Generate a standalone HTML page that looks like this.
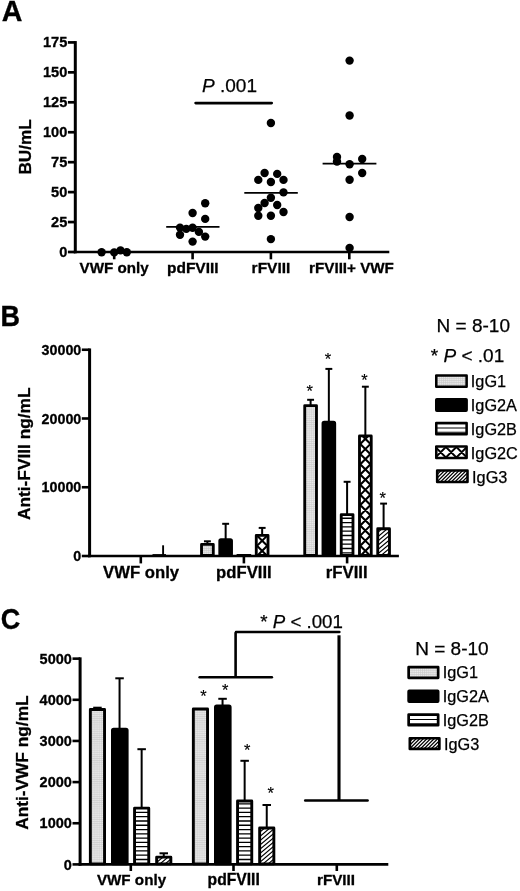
<!DOCTYPE html>
<html lang="en"><head><meta charset="utf-8"><title>Figure</title>
<style>html,body{margin:0;padding:0;background:#fff;overflow:hidden;}svg{display:block;}text{font-family:'Liberation Sans', sans-serif;fill:#000;}</style></head><body>
<svg width="520" height="891" viewBox="0 0 520 891">
<rect width="520" height="891" fill="#fff"/>
<defs><pattern id="pGrid" width="2.1" height="2.1" patternUnits="userSpaceOnUse"><rect width="2.1" height="2.1" fill="#ececec"/><path d="M0 0.5H2.1M0.5 0V2.1" stroke="#c6c6c6" stroke-width="0.6"/></pattern><clipPath id="c1"><rect x="256.27" y="535.42" width="11.75" height="20.05"/></clipPath><clipPath id="c2"><rect x="341.23" y="514.62" width="11.75" height="40.85"/></clipPath><clipPath id="c3"><rect x="359.48" y="435.93" width="11.75" height="119.55"/></clipPath><clipPath id="c4"><rect x="377.73" y="528.72" width="11.75" height="26.75"/></clipPath><clipPath id="c5"><rect x="436.27" y="422.97" width="30.35" height="11.35"/></clipPath><clipPath id="c6"><rect x="436.27" y="446.57" width="30.35" height="11.35"/></clipPath><clipPath id="c7"><rect x="437.17" y="470.57" width="30.35" height="11.35"/></clipPath><clipPath id="c8"><rect x="134.55" y="808.15" width="14.20" height="55.70"/></clipPath><clipPath id="c9"><rect x="156.65" y="857.15" width="14.20" height="6.70"/></clipPath><clipPath id="c10"><rect x="237.55" y="801.05" width="14.20" height="62.80"/></clipPath><clipPath id="c11"><rect x="259.65" y="827.95" width="14.20" height="35.90"/></clipPath><clipPath id="c12"><rect x="408.65" y="714.55" width="29.50" height="10.70"/></clipPath><clipPath id="c13"><rect x="409.85" y="738.25" width="29.50" height="10.70"/></clipPath></defs>
<text x="1.7" y="21" font-size="28.6" font-weight="bold" text-anchor="start" stroke="#000" stroke-width="0.3">A</text>
<line x1="75.30" y1="41.07" x2="75.30" y2="253.30" stroke="#000" stroke-width="3.0" stroke-linecap="butt"/>
<line x1="73.80" y1="252.00" x2="389.30" y2="252.00" stroke="#000" stroke-width="2.6" stroke-linecap="butt"/>
<line x1="67.90" y1="252.00" x2="75.30" y2="252.00" stroke="#000" stroke-width="2.7" stroke-linecap="butt"/>
<text x="0" y="0" font-size="14.6" font-weight="bold" text-anchor="end" transform="translate(67.3 256.7) scale(1 1.06)" stroke="#000" stroke-width="0.3">0</text>
<line x1="67.90" y1="222.06" x2="75.30" y2="222.06" stroke="#000" stroke-width="2.7" stroke-linecap="butt"/>
<text x="0" y="0" font-size="14.6" font-weight="bold" text-anchor="end" transform="translate(67.3 226.76) scale(1 1.06)" stroke="#000" stroke-width="0.3">25</text>
<line x1="67.90" y1="192.12" x2="75.30" y2="192.12" stroke="#000" stroke-width="2.7" stroke-linecap="butt"/>
<text x="0" y="0" font-size="14.6" font-weight="bold" text-anchor="end" transform="translate(67.3 196.82) scale(1 1.06)" stroke="#000" stroke-width="0.3">50</text>
<line x1="67.90" y1="162.18" x2="75.30" y2="162.18" stroke="#000" stroke-width="2.7" stroke-linecap="butt"/>
<text x="0" y="0" font-size="14.6" font-weight="bold" text-anchor="end" transform="translate(67.3 166.88) scale(1 1.06)" stroke="#000" stroke-width="0.3">75</text>
<line x1="67.90" y1="132.24" x2="75.30" y2="132.24" stroke="#000" stroke-width="2.7" stroke-linecap="butt"/>
<text x="0" y="0" font-size="14.6" font-weight="bold" text-anchor="end" transform="translate(67.3 136.94) scale(1 1.06)" stroke="#000" stroke-width="0.3">100</text>
<line x1="67.90" y1="102.30" x2="75.30" y2="102.30" stroke="#000" stroke-width="2.7" stroke-linecap="butt"/>
<text x="0" y="0" font-size="14.6" font-weight="bold" text-anchor="end" transform="translate(67.3 107.0) scale(1 1.06)" stroke="#000" stroke-width="0.3">125</text>
<line x1="67.90" y1="72.36" x2="75.30" y2="72.36" stroke="#000" stroke-width="2.7" stroke-linecap="butt"/>
<text x="0" y="0" font-size="14.6" font-weight="bold" text-anchor="end" transform="translate(67.3 77.06) scale(1 1.06)" stroke="#000" stroke-width="0.3">150</text>
<line x1="67.90" y1="42.42" x2="75.30" y2="42.42" stroke="#000" stroke-width="2.7" stroke-linecap="butt"/>
<text x="0" y="0" font-size="14.6" font-weight="bold" text-anchor="end" transform="translate(67.3 47.12) scale(1 1.06)" stroke="#000" stroke-width="0.3">175</text>
<text x="30.7" y="174.6" font-size="17.2" font-weight="bold" text-anchor="start" transform="rotate(-90 30.7 174.6)" stroke="#000" stroke-width="0.3">BU/mL</text>
<line x1="114.20" y1="252.00" x2="114.20" y2="259.30" stroke="#000" stroke-width="2.6" stroke-linecap="butt"/>
<line x1="192.60" y1="252.00" x2="192.60" y2="259.30" stroke="#000" stroke-width="2.6" stroke-linecap="butt"/>
<line x1="270.90" y1="252.00" x2="270.90" y2="259.30" stroke="#000" stroke-width="2.6" stroke-linecap="butt"/>
<line x1="349.30" y1="252.00" x2="349.30" y2="259.30" stroke="#000" stroke-width="2.6" stroke-linecap="butt"/>
<text x="114.2" y="273.3" font-size="15.2" font-weight="bold" text-anchor="middle" stroke="#000" stroke-width="0.3">VWF only</text>
<text x="192.8" y="273.3" font-size="15.5" font-weight="bold" text-anchor="middle" stroke="#000" stroke-width="0.3">pdFVIII</text>
<text x="271.0" y="273.3" font-size="15.5" font-weight="bold" text-anchor="middle" stroke="#000" stroke-width="0.3">rFVIII</text>
<text x="351.5" y="273.3" font-size="15.2" font-weight="bold" text-anchor="middle" stroke="#000" stroke-width="0.3">rFVIII+ VWF</text>
<text x="202.0" y="92.3" font-size="19" font-weight="normal" text-anchor="start" stroke="#000" stroke-width="0.25"><tspan font-style="italic">P</tspan> .001</text>
<line x1="195.70" y1="103.10" x2="271.60" y2="103.10" stroke="#000" stroke-width="2.9" stroke-linecap="round"/>
<circle cx="101.60" cy="252.20" r="4.2" fill="#000"/>
<circle cx="114.20" cy="252.40" r="4.2" fill="#000"/>
<circle cx="120.50" cy="250.40" r="4.2" fill="#000"/>
<circle cx="126.80" cy="252.20" r="4.2" fill="#000"/>
<circle cx="205.20" cy="203.20" r="4.2" fill="#000"/>
<circle cx="192.60" cy="213.00" r="4.2" fill="#000"/>
<circle cx="205.20" cy="218.90" r="4.2" fill="#000"/>
<circle cx="180.00" cy="227.60" r="4.2" fill="#000"/>
<circle cx="186.30" cy="228.90" r="4.2" fill="#000"/>
<circle cx="192.60" cy="227.80" r="4.2" fill="#000"/>
<circle cx="198.90" cy="231.90" r="4.2" fill="#000"/>
<circle cx="180.00" cy="234.70" r="4.2" fill="#000"/>
<circle cx="205.20" cy="236.60" r="4.2" fill="#000"/>
<circle cx="192.60" cy="241.60" r="4.2" fill="#000"/>
<circle cx="270.90" cy="123.05" r="4.2" fill="#000"/>
<circle cx="264.60" cy="173.00" r="4.2" fill="#000"/>
<circle cx="277.20" cy="173.90" r="4.2" fill="#000"/>
<circle cx="258.30" cy="179.90" r="4.2" fill="#000"/>
<circle cx="270.90" cy="182.00" r="4.2" fill="#000"/>
<circle cx="283.50" cy="179.90" r="4.2" fill="#000"/>
<circle cx="283.50" cy="192.40" r="4.2" fill="#000"/>
<circle cx="270.90" cy="197.80" r="4.2" fill="#000"/>
<circle cx="264.60" cy="203.00" r="4.2" fill="#000"/>
<circle cx="277.20" cy="205.00" r="4.2" fill="#000"/>
<circle cx="258.30" cy="208.00" r="4.2" fill="#000"/>
<circle cx="283.50" cy="212.00" r="4.2" fill="#000"/>
<circle cx="258.30" cy="215.70" r="4.2" fill="#000"/>
<circle cx="270.90" cy="215.70" r="4.2" fill="#000"/>
<circle cx="270.90" cy="239.10" r="4.2" fill="#000"/>
<circle cx="349.60" cy="60.60" r="4.2" fill="#000"/>
<circle cx="349.60" cy="115.50" r="4.2" fill="#000"/>
<circle cx="337.00" cy="156.90" r="4.2" fill="#000"/>
<circle cx="337.00" cy="161.50" r="4.2" fill="#000"/>
<circle cx="362.20" cy="159.00" r="4.2" fill="#000"/>
<circle cx="349.60" cy="164.30" r="4.2" fill="#000"/>
<circle cx="362.20" cy="173.00" r="4.2" fill="#000"/>
<circle cx="349.60" cy="179.70" r="4.2" fill="#000"/>
<circle cx="349.60" cy="217.00" r="4.2" fill="#000"/>
<circle cx="349.60" cy="247.90" r="4.2" fill="#000"/>
<line x1="166.20" y1="226.90" x2="219.50" y2="226.90" stroke="#000" stroke-width="1.8" stroke-linecap="butt"/>
<line x1="244.30" y1="192.80" x2="297.80" y2="192.80" stroke="#000" stroke-width="1.8" stroke-linecap="butt"/>
<line x1="322.60" y1="163.60" x2="376.40" y2="163.60" stroke="#000" stroke-width="1.8" stroke-linecap="butt"/>
<text x="0" y="0" font-size="27.0" font-weight="bold" text-anchor="start" transform="translate(0.5 325.9) scale(1 1.08)" stroke="#000" stroke-width="0.3">B</text>
<line x1="89.60" y1="348.45" x2="89.60" y2="557.25" stroke="#000" stroke-width="3.0" stroke-linecap="butt"/>
<line x1="88.10" y1="556.00" x2="398.90" y2="556.00" stroke="#000" stroke-width="2.5" stroke-linecap="butt"/>
<line x1="81.80" y1="556.00" x2="89.60" y2="556.00" stroke="#000" stroke-width="2.6" stroke-linecap="butt"/>
<text x="0" y="0" font-size="14.3" font-weight="bold" text-anchor="end" transform="translate(81.3 561.0) scale(1 1.07)" stroke="#000" stroke-width="0.3">0</text>
<line x1="81.80" y1="487.25" x2="89.60" y2="487.25" stroke="#000" stroke-width="2.6" stroke-linecap="butt"/>
<text x="0" y="0" font-size="14.3" font-weight="bold" text-anchor="end" transform="translate(81.3 492.25) scale(1 1.07)" stroke="#000" stroke-width="0.3">10000</text>
<line x1="81.80" y1="418.50" x2="89.60" y2="418.50" stroke="#000" stroke-width="2.6" stroke-linecap="butt"/>
<text x="0" y="0" font-size="14.3" font-weight="bold" text-anchor="end" transform="translate(81.3 423.5) scale(1 1.07)" stroke="#000" stroke-width="0.3">20000</text>
<line x1="81.80" y1="349.75" x2="89.60" y2="349.75" stroke="#000" stroke-width="2.6" stroke-linecap="butt"/>
<text x="0" y="0" font-size="14.3" font-weight="bold" text-anchor="end" transform="translate(81.3 354.75) scale(1 1.07)" stroke="#000" stroke-width="0.3">30000</text>
<text x="30.3" y="520.0" font-size="17.3" font-weight="bold" text-anchor="start" transform="rotate(-90 30.3 520.0)" stroke="#000" stroke-width="0.3">Anti-FVIII ng/mL</text>
<line x1="140.80" y1="556.00" x2="140.80" y2="563.40" stroke="#000" stroke-width="2.6" stroke-linecap="butt"/>
<line x1="243.90" y1="556.00" x2="243.90" y2="563.40" stroke="#000" stroke-width="2.6" stroke-linecap="butt"/>
<line x1="347.10" y1="556.00" x2="347.10" y2="563.40" stroke="#000" stroke-width="2.6" stroke-linecap="butt"/>
<text x="141.1" y="577.6" font-size="16.7" font-weight="bold" text-anchor="middle" stroke="#000" stroke-width="0.3">VWF only</text>
<text x="243.9" y="577.7" font-size="16.7" font-weight="bold" text-anchor="middle" stroke="#000" stroke-width="0.3">pdFVIII</text>
<text x="346.7" y="577.7" font-size="16.7" font-weight="bold" text-anchor="middle" stroke="#000" stroke-width="0.3">rFVIII</text>
<line x1="152.50" y1="554.80" x2="166.00" y2="554.80" stroke="#000" stroke-width="1.4" stroke-linecap="butt"/>
<line x1="163.10" y1="545.30" x2="163.10" y2="556.00" stroke="#000" stroke-width="1.9" stroke-linecap="butt"/>
<line x1="207.40" y1="541.30" x2="207.40" y2="544.00" stroke="#000" stroke-width="2.0" stroke-linecap="butt"/>
<line x1="203.95" y1="541.30" x2="210.85" y2="541.30" stroke="#000" stroke-width="2.0" stroke-linecap="butt"/>
<rect x="201.53" y="544.42" width="11.75" height="11.05" fill="url(#pGrid)"/>
<rect x="201.53" y="544.42" width="11.75" height="11.05" rx="0" fill="none" stroke="#000" stroke-width="2.85" stroke-linejoin="round"/>
<line x1="225.65" y1="523.80" x2="225.65" y2="539.20" stroke="#000" stroke-width="2.0" stroke-linecap="butt"/>
<line x1="222.20" y1="523.80" x2="229.10" y2="523.80" stroke="#000" stroke-width="2.0" stroke-linecap="butt"/>
<rect x="219.78" y="539.62" width="11.75" height="15.85" rx="1.2" fill="#000" stroke="#000" stroke-width="2.85" stroke-linejoin="round"/>
<line x1="236.60" y1="554.70" x2="251.20" y2="554.70" stroke="#000" stroke-width="1.4" stroke-linecap="butt"/>
<line x1="262.15" y1="527.90" x2="262.15" y2="535.00" stroke="#000" stroke-width="2.0" stroke-linecap="butt"/>
<line x1="258.70" y1="527.90" x2="265.60" y2="527.90" stroke="#000" stroke-width="2.0" stroke-linecap="butt"/>
<g clip-path="url(#c1)"><rect x="256.27" y="535.42" width="11.75" height="20.05" fill="#fff"/><path d="M254.27 522.65L270.02 538.40M254.27 538.40L270.02 522.65M254.27 532.84L270.02 548.59M254.27 548.59L270.02 532.84M254.27 543.03L270.02 558.78M254.27 558.78L270.02 543.03M254.27 553.22L270.02 568.97M254.27 568.97L270.02 553.22" fill="none" stroke="#000" stroke-width="2.1"/></g>
<rect x="256.27" y="535.42" width="11.75" height="20.05" rx="0" fill="none" stroke="#000" stroke-width="2.85" stroke-linejoin="round"/>
<line x1="310.60" y1="399.80" x2="310.60" y2="405.20" stroke="#000" stroke-width="2.0" stroke-linecap="butt"/>
<line x1="307.15" y1="399.80" x2="314.05" y2="399.80" stroke="#000" stroke-width="2.0" stroke-linecap="butt"/>
<rect x="304.73" y="405.62" width="11.75" height="149.85" fill="url(#pGrid)"/>
<rect x="304.73" y="405.62" width="11.75" height="149.85" rx="0" fill="none" stroke="#000" stroke-width="2.85" stroke-linejoin="round"/>
<text x="309.7" y="397.3" font-size="16.5" font-weight="normal" text-anchor="middle" stroke="#000" stroke-width="0.15">*</text>
<line x1="328.85" y1="368.90" x2="328.85" y2="421.80" stroke="#000" stroke-width="2.0" stroke-linecap="butt"/>
<line x1="325.40" y1="368.90" x2="332.30" y2="368.90" stroke="#000" stroke-width="2.0" stroke-linecap="butt"/>
<rect x="322.98" y="422.23" width="11.75" height="133.25" rx="1.2" fill="#000" stroke="#000" stroke-width="2.85" stroke-linejoin="round"/>
<text x="327.95" y="365.3" font-size="16.5" font-weight="normal" text-anchor="middle" stroke="#000" stroke-width="0.15">*</text>
<line x1="347.10" y1="481.80" x2="347.10" y2="514.20" stroke="#000" stroke-width="2.0" stroke-linecap="butt"/>
<line x1="343.65" y1="481.80" x2="350.55" y2="481.80" stroke="#000" stroke-width="2.0" stroke-linecap="butt"/>
<g clip-path="url(#c2)"><rect x="341.23" y="514.62" width="11.75" height="40.85" fill="#fff"/><path d="M340.23 513.92H353.98M340.23 518.24H353.98M340.23 522.56H353.98M340.23 526.88H353.98M340.23 531.20H353.98M340.23 535.52H353.98M340.23 539.84H353.98M340.23 544.16H353.98M340.23 548.48H353.98M340.23 552.80H353.98M340.23 557.12H353.98" fill="none" stroke="#000" stroke-width="1.3"/></g>
<rect x="341.23" y="514.62" width="11.75" height="40.85" rx="0" fill="none" stroke="#000" stroke-width="2.85" stroke-linejoin="round"/>
<line x1="365.35" y1="386.70" x2="365.35" y2="435.50" stroke="#000" stroke-width="2.0" stroke-linecap="butt"/>
<line x1="361.90" y1="386.70" x2="368.80" y2="386.70" stroke="#000" stroke-width="2.0" stroke-linecap="butt"/>
<g clip-path="url(#c3)"><rect x="359.48" y="435.93" width="11.75" height="119.55" fill="#fff"/><path d="M357.48 420.75L373.23 436.50M357.48 436.50L373.23 420.75M357.48 430.94L373.23 446.69M357.48 446.69L373.23 430.94M357.48 441.13L373.23 456.88M357.48 456.88L373.23 441.13M357.48 451.32L373.23 467.07M357.48 467.07L373.23 451.32M357.48 461.51L373.23 477.26M357.48 477.26L373.23 461.51M357.48 471.70L373.23 487.45M357.48 487.45L373.23 471.70M357.48 481.89L373.23 497.64M357.48 497.64L373.23 481.89M357.48 492.08L373.23 507.83M357.48 507.83L373.23 492.08M357.48 502.27L373.23 518.02M357.48 518.02L373.23 502.27M357.48 512.46L373.23 528.21M357.48 528.21L373.23 512.46M357.48 522.65L373.23 538.40M357.48 538.40L373.23 522.65M357.48 532.84L373.23 548.59M357.48 548.59L373.23 532.84M357.48 543.03L373.23 558.78M357.48 558.78L373.23 543.03M357.48 553.22L373.23 568.97M357.48 568.97L373.23 553.22" fill="none" stroke="#000" stroke-width="2.1"/></g>
<rect x="359.48" y="435.93" width="11.75" height="119.55" rx="0" fill="none" stroke="#000" stroke-width="2.85" stroke-linejoin="round"/>
<text x="364.45" y="385.8" font-size="16.5" font-weight="normal" text-anchor="middle" stroke="#000" stroke-width="0.15">*</text>
<line x1="383.60" y1="503.60" x2="383.60" y2="528.30" stroke="#000" stroke-width="2.0" stroke-linecap="butt"/>
<line x1="380.15" y1="503.60" x2="387.05" y2="503.60" stroke="#000" stroke-width="2.0" stroke-linecap="butt"/>
<g clip-path="url(#c4)"><rect x="377.73" y="528.72" width="11.75" height="26.75" fill="#fff"/><path d="M375.73 529.88L391.48 516.66M375.73 534.18L391.48 520.96M375.73 538.48L391.48 525.26M375.73 542.78L391.48 529.56M375.73 547.08L391.48 533.86M375.73 551.38L391.48 538.16M375.73 555.68L391.48 542.46M375.73 559.98L391.48 546.76M375.73 564.28L391.48 551.06M375.73 568.58L391.48 555.36" fill="none" stroke="#000" stroke-width="1.15"/></g>
<rect x="377.73" y="528.72" width="11.75" height="26.75" rx="0" fill="none" stroke="#000" stroke-width="2.85" stroke-linejoin="round"/>
<text x="382.7" y="504.1" font-size="16.5" font-weight="normal" text-anchor="middle" stroke="#000" stroke-width="0.15">*</text>
<text x="436.6" y="331.6" font-size="19" font-weight="normal" text-anchor="start" stroke="#000" stroke-width="0.25">N = 8-10</text>
<text x="430.8" y="361.8" font-size="19" font-weight="normal" text-anchor="start" stroke="#000" stroke-width="0.25">* <tspan font-style="italic">P</tspan> &lt; .01</text>
<rect x="436.27" y="375.47" width="30.35" height="11.35" fill="url(#pGrid)"/>
<rect x="436.27" y="375.47" width="30.35" height="11.35" rx="0" fill="none" stroke="#000" stroke-width="2.55" stroke-linejoin="round"/>
<text x="470.8" y="387.4" font-size="16.3" font-weight="normal" text-anchor="start" stroke="#000" stroke-width="0.25">IgG1</text>
<rect x="436.27" y="399.27" width="30.35" height="11.35" rx="0.6" fill="#000" stroke="#000" stroke-width="2.55" stroke-linejoin="round"/>
<text x="470.8" y="411.2" font-size="16.3" font-weight="normal" text-anchor="start" stroke="#000" stroke-width="0.25">IgG2A</text>
<g clip-path="url(#c5)"><rect x="436.27" y="422.97" width="30.35" height="11.35" fill="#fff"/><path d="M435.27 419.36H467.62M435.27 423.68H467.62M435.27 428.00H467.62M435.27 432.32H467.62M435.27 436.64H467.62" fill="none" stroke="#000" stroke-width="1.05"/></g>
<rect x="436.27" y="422.97" width="30.35" height="11.35" rx="0" fill="none" stroke="#000" stroke-width="2.55" stroke-linejoin="round"/>
<text x="470.8" y="434.9" font-size="16.3" font-weight="normal" text-anchor="start" stroke="#000" stroke-width="0.25">IgG2B</text>
<g clip-path="url(#c6)"><rect x="436.27" y="446.57" width="30.35" height="11.35" fill="#fff"/><path d="M434.27 414.38L468.62 448.73M434.27 448.12L468.62 413.77M434.27 424.88L468.62 459.23M434.27 458.62L468.62 424.27M434.27 435.38L468.62 469.73M434.27 469.12L468.62 434.77M434.27 445.88L468.62 480.23M434.27 479.62L468.62 445.27M434.27 456.38L468.62 490.73M434.27 490.12L468.62 455.77" fill="none" stroke="#000" stroke-width="2.0"/></g>
<rect x="436.27" y="446.57" width="30.35" height="11.35" rx="0" fill="none" stroke="#000" stroke-width="2.55" stroke-linejoin="round"/>
<text x="470.8" y="458.5" font-size="16.3" font-weight="normal" text-anchor="start" stroke="#000" stroke-width="0.25">IgG2C</text>
<g clip-path="url(#c7)"><rect x="437.17" y="470.57" width="30.35" height="11.35" fill="#fff"/><path d="M435.17 469.25L469.52 434.90M435.17 472.85L469.52 438.50M435.17 476.45L469.52 442.10M435.17 480.05L469.52 445.70M435.17 483.65L469.52 449.30M435.17 487.25L469.52 452.90M435.17 490.85L469.52 456.50M435.17 494.45L469.52 460.10M435.17 498.05L469.52 463.70M435.17 501.65L469.52 467.30M435.17 505.25L469.52 470.90M435.17 508.85L469.52 474.50M435.17 512.45L469.52 478.10M435.17 516.05L469.52 481.70" fill="none" stroke="#000" stroke-width="1.25"/></g>
<rect x="437.17" y="470.57" width="30.35" height="11.35" rx="0" fill="none" stroke="#000" stroke-width="2.55" stroke-linejoin="round"/>
<text x="472.06" y="482.5" font-size="16.3" font-weight="normal" text-anchor="start" stroke="#000" stroke-width="0.25">IgG3</text>
<text x="0" y="0" font-size="27.0" font-weight="bold" text-anchor="start" transform="translate(0.7 628.6) scale(1 1.09)" stroke="#000" stroke-width="0.3">C</text>
<line x1="80.10" y1="657.35" x2="80.10" y2="865.65" stroke="#000" stroke-width="3.0" stroke-linecap="butt"/>
<line x1="78.60" y1="864.40" x2="388.30" y2="864.40" stroke="#000" stroke-width="2.6" stroke-linecap="butt"/>
<line x1="72.50" y1="864.40" x2="80.10" y2="864.40" stroke="#000" stroke-width="2.6" stroke-linecap="butt"/>
<text x="0" y="0" font-size="14.5" font-weight="bold" text-anchor="end" transform="translate(71.8 869.5) scale(1 1.07)" stroke="#000" stroke-width="0.3">0</text>
<line x1="72.50" y1="823.25" x2="80.10" y2="823.25" stroke="#000" stroke-width="2.6" stroke-linecap="butt"/>
<text x="0" y="0" font-size="14.5" font-weight="bold" text-anchor="end" transform="translate(71.8 828.35) scale(1 1.07)" stroke="#000" stroke-width="0.3">1000</text>
<line x1="72.50" y1="782.10" x2="80.10" y2="782.10" stroke="#000" stroke-width="2.6" stroke-linecap="butt"/>
<text x="0" y="0" font-size="14.5" font-weight="bold" text-anchor="end" transform="translate(71.8 787.2) scale(1 1.07)" stroke="#000" stroke-width="0.3">2000</text>
<line x1="72.50" y1="740.95" x2="80.10" y2="740.95" stroke="#000" stroke-width="2.6" stroke-linecap="butt"/>
<text x="0" y="0" font-size="14.5" font-weight="bold" text-anchor="end" transform="translate(71.8 746.05) scale(1 1.07)" stroke="#000" stroke-width="0.3">3000</text>
<line x1="72.50" y1="699.80" x2="80.10" y2="699.80" stroke="#000" stroke-width="2.6" stroke-linecap="butt"/>
<text x="0" y="0" font-size="14.5" font-weight="bold" text-anchor="end" transform="translate(71.8 704.9) scale(1 1.07)" stroke="#000" stroke-width="0.3">4000</text>
<line x1="72.50" y1="658.65" x2="80.10" y2="658.65" stroke="#000" stroke-width="2.6" stroke-linecap="butt"/>
<text x="0" y="0" font-size="14.5" font-weight="bold" text-anchor="end" transform="translate(71.8 663.75) scale(1 1.07)" stroke="#000" stroke-width="0.3">5000</text>
<text x="27.9" y="829.8" font-size="17.3" font-weight="bold" text-anchor="start" transform="rotate(-90 27.9 829.8)" stroke="#000" stroke-width="0.3">Anti-VWF ng/mL</text>
<line x1="130.80" y1="864.40" x2="130.80" y2="871.00" stroke="#000" stroke-width="2.6" stroke-linecap="butt"/>
<line x1="233.50" y1="864.40" x2="233.50" y2="871.00" stroke="#000" stroke-width="2.6" stroke-linecap="butt"/>
<line x1="336.80" y1="864.40" x2="336.80" y2="871.00" stroke="#000" stroke-width="2.6" stroke-linecap="butt"/>
<text x="131.5" y="884.8" font-size="15.2" font-weight="bold" text-anchor="middle" stroke="#000" stroke-width="0.3">VWF only</text>
<text x="233.7" y="884.6" font-size="15.7" font-weight="bold" text-anchor="middle" stroke="#000" stroke-width="0.3">pdFVIII</text>
<text x="336.0" y="884.8" font-size="15.2" font-weight="bold" text-anchor="middle" stroke="#000" stroke-width="0.3">rFVIII</text>
<line x1="97.45" y1="707.70" x2="97.45" y2="709.10" stroke="#000" stroke-width="2.0" stroke-linecap="butt"/>
<line x1="93.20" y1="707.70" x2="101.70" y2="707.70" stroke="#000" stroke-width="2.0" stroke-linecap="butt"/>
<rect x="90.35" y="709.55" width="14.20" height="154.30" fill="url(#pGrid)"/>
<rect x="90.35" y="709.55" width="14.20" height="154.30" rx="0" fill="none" stroke="#000" stroke-width="2.9" stroke-linejoin="round"/>
<line x1="119.55" y1="678.30" x2="119.55" y2="728.70" stroke="#000" stroke-width="2.0" stroke-linecap="butt"/>
<line x1="115.30" y1="678.30" x2="123.80" y2="678.30" stroke="#000" stroke-width="2.0" stroke-linecap="butt"/>
<rect x="112.45" y="729.15" width="14.70" height="134.70" rx="1.2" fill="#000" stroke="#000" stroke-width="2.9" stroke-linejoin="round"/>
<line x1="141.65" y1="749.20" x2="141.65" y2="807.70" stroke="#000" stroke-width="2.0" stroke-linecap="butt"/>
<line x1="137.40" y1="749.20" x2="145.90" y2="749.20" stroke="#000" stroke-width="2.0" stroke-linecap="butt"/>
<g clip-path="url(#c8)"><rect x="134.55" y="808.15" width="14.20" height="55.70" fill="#fff"/><path d="M133.55 808.14H149.75M133.55 812.42H149.75M133.55 816.70H149.75M133.55 820.98H149.75M133.55 825.26H149.75M133.55 829.54H149.75M133.55 833.82H149.75M133.55 838.10H149.75M133.55 842.38H149.75M133.55 846.66H149.75M133.55 850.94H149.75M133.55 855.22H149.75M133.55 859.50H149.75M133.55 863.78H149.75M133.55 868.06H149.75" fill="none" stroke="#000" stroke-width="1.3"/></g>
<rect x="134.55" y="808.15" width="14.20" height="55.70" rx="0" fill="none" stroke="#000" stroke-width="2.9" stroke-linejoin="round"/>
<line x1="163.75" y1="853.30" x2="163.75" y2="856.70" stroke="#000" stroke-width="2.0" stroke-linecap="butt"/>
<line x1="159.50" y1="853.30" x2="168.00" y2="853.30" stroke="#000" stroke-width="2.0" stroke-linecap="butt"/>
<g clip-path="url(#c9)"><rect x="156.65" y="857.15" width="14.20" height="6.70" fill="#fff"/><path d="M154.65 855.48L172.85 840.21M154.65 859.78L172.85 844.51M154.65 864.08L172.85 848.81M154.65 868.38L172.85 853.11M154.65 872.68L172.85 857.41M154.65 876.98L172.85 861.71" fill="none" stroke="#000" stroke-width="1.15"/></g>
<rect x="156.65" y="857.15" width="14.20" height="6.70" rx="0" fill="none" stroke="#000" stroke-width="2.9" stroke-linejoin="round"/>
<rect x="193.35" y="708.95" width="14.20" height="154.90" fill="url(#pGrid)"/>
<rect x="193.35" y="708.95" width="14.20" height="154.90" rx="0" fill="none" stroke="#000" stroke-width="2.9" stroke-linejoin="round"/>
<text x="203.35" y="701.6" font-size="16.5" font-weight="normal" text-anchor="middle" stroke="#000" stroke-width="0.15">*</text>
<line x1="222.55" y1="698.80" x2="222.55" y2="705.60" stroke="#000" stroke-width="2.0" stroke-linecap="butt"/>
<line x1="218.30" y1="698.80" x2="226.80" y2="698.80" stroke="#000" stroke-width="2.0" stroke-linecap="butt"/>
<rect x="215.45" y="706.05" width="14.70" height="157.80" rx="1.2" fill="#000" stroke="#000" stroke-width="2.9" stroke-linejoin="round"/>
<text x="225.25" y="696.4" font-size="16.5" font-weight="normal" text-anchor="middle" stroke="#000" stroke-width="0.15">*</text>
<line x1="244.65" y1="760.80" x2="244.65" y2="800.60" stroke="#000" stroke-width="2.0" stroke-linecap="butt"/>
<line x1="240.40" y1="760.80" x2="248.90" y2="760.80" stroke="#000" stroke-width="2.0" stroke-linecap="butt"/>
<g clip-path="url(#c10)"><rect x="237.55" y="801.05" width="14.20" height="62.80" fill="#fff"/><path d="M236.55 799.58H252.75M236.55 803.86H252.75M236.55 808.14H252.75M236.55 812.42H252.75M236.55 816.70H252.75M236.55 820.98H252.75M236.55 825.26H252.75M236.55 829.54H252.75M236.55 833.82H252.75M236.55 838.10H252.75M236.55 842.38H252.75M236.55 846.66H252.75M236.55 850.94H252.75M236.55 855.22H252.75M236.55 859.50H252.75M236.55 863.78H252.75M236.55 868.06H252.75" fill="none" stroke="#000" stroke-width="1.3"/></g>
<rect x="237.55" y="801.05" width="14.20" height="62.80" rx="0" fill="none" stroke="#000" stroke-width="2.9" stroke-linejoin="round"/>
<text x="247.15" y="756.0" font-size="16.5" font-weight="normal" text-anchor="middle" stroke="#000" stroke-width="0.15">*</text>
<line x1="266.75" y1="805.00" x2="266.75" y2="827.50" stroke="#000" stroke-width="2.0" stroke-linecap="butt"/>
<line x1="262.50" y1="805.00" x2="271.00" y2="805.00" stroke="#000" stroke-width="2.0" stroke-linecap="butt"/>
<g clip-path="url(#c11)"><rect x="259.65" y="827.95" width="14.20" height="35.90" fill="#fff"/><path d="M257.65 829.68L275.85 814.41M257.65 833.98L275.85 818.71M257.65 838.28L275.85 823.01M257.65 842.58L275.85 827.31M257.65 846.88L275.85 831.61M257.65 851.18L275.85 835.91M257.65 855.48L275.85 840.21M257.65 859.78L275.85 844.51M257.65 864.08L275.85 848.81M257.65 868.38L275.85 853.11M257.65 872.68L275.85 857.41M257.65 876.98L275.85 861.71" fill="none" stroke="#000" stroke-width="1.15"/></g>
<rect x="259.65" y="827.95" width="14.20" height="35.90" rx="0" fill="none" stroke="#000" stroke-width="2.9" stroke-linejoin="round"/>
<text x="270.75" y="799.1" font-size="16.5" font-weight="normal" text-anchor="middle" stroke="#000" stroke-width="0.15">*</text>
<text x="260.3" y="628.2" font-size="18.7" font-weight="normal" text-anchor="start" stroke="#000" stroke-width="0.25">* <tspan font-style="italic">P</tspan> &lt; .001</text>
<line x1="236.00" y1="632.10" x2="339.40" y2="632.10" stroke="#000" stroke-width="2.5" stroke-linecap="round"/>
<line x1="235.60" y1="632.20" x2="235.60" y2="677.30" stroke="#000" stroke-width="2.6" stroke-linecap="butt"/>
<line x1="339.00" y1="635.30" x2="339.00" y2="800.60" stroke="#000" stroke-width="3.1" stroke-linecap="butt"/>
<line x1="199.60" y1="677.30" x2="271.90" y2="677.30" stroke="#000" stroke-width="2.5" stroke-linecap="round"/>
<line x1="305.20" y1="800.60" x2="367.60" y2="800.60" stroke="#000" stroke-width="2.5" stroke-linecap="round"/>
<text x="415.2" y="654.6" font-size="19" font-weight="normal" text-anchor="start" stroke="#000" stroke-width="0.25">N = 8-10</text>
<rect x="408.65" y="667.15" width="29.50" height="10.70" fill="url(#pGrid)"/>
<rect x="408.65" y="667.15" width="29.50" height="10.70" rx="0" fill="none" stroke="#000" stroke-width="2.7" stroke-linejoin="round"/>
<text x="442.7" y="678.4" font-size="16.3" font-weight="normal" text-anchor="start" stroke="#000" stroke-width="0.25">IgG1</text>
<rect x="408.65" y="690.85" width="29.50" height="10.70" rx="0.6" fill="#000" stroke="#000" stroke-width="2.7" stroke-linejoin="round"/>
<text x="442.7" y="702.1" font-size="16.3" font-weight="normal" text-anchor="start" stroke="#000" stroke-width="0.25">IgG2A</text>
<g clip-path="url(#c12)"><rect x="408.65" y="714.55" width="29.50" height="10.70" fill="#fff"/><path d="M407.65 710.86H439.15M407.65 715.18H439.15M407.65 719.50H439.15M407.65 723.82H439.15M407.65 728.14H439.15" fill="none" stroke="#000" stroke-width="1.05"/></g>
<rect x="408.65" y="714.55" width="29.50" height="10.70" rx="0" fill="none" stroke="#000" stroke-width="2.7" stroke-linejoin="round"/>
<text x="442.7" y="725.8" font-size="16.3" font-weight="normal" text-anchor="start" stroke="#000" stroke-width="0.25">IgG2B</text>
<g clip-path="url(#c13)"><rect x="409.85" y="738.25" width="29.50" height="10.70" fill="#fff"/><path d="M407.85 739.80L441.35 706.30M407.85 743.40L441.35 709.90M407.85 747.00L441.35 713.50M407.85 750.60L441.35 717.10M407.85 754.20L441.35 720.70M407.85 757.80L441.35 724.30M407.85 761.40L441.35 727.90M407.85 765.00L441.35 731.50M407.85 768.60L441.35 735.10M407.85 772.20L441.35 738.70M407.85 775.80L441.35 742.30M407.85 779.40L441.35 745.90M407.85 783.00L441.35 749.50" fill="none" stroke="#000" stroke-width="1.25"/></g>
<rect x="409.85" y="738.25" width="29.50" height="10.70" rx="0" fill="none" stroke="#000" stroke-width="2.7" stroke-linejoin="round"/>
<text x="443.9" y="749.5" font-size="16.3" font-weight="normal" text-anchor="start" stroke="#000" stroke-width="0.25">IgG3</text>
</svg></body></html>
